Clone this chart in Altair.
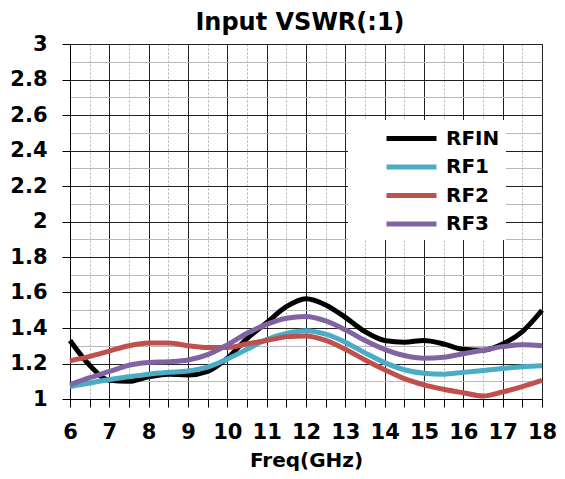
import altair as alt
import pandas as pd

freq = [6, 6.5, 7, 7.5, 8, 8.5, 9, 9.5, 10, 10.5, 11, 11.5, 12, 12.5, 13, 13.5, 14, 14.5, 15, 15.5, 16, 16.5, 17, 17.5, 18]
rfin = [1.33, 1.19, 1.105, 1.10, 1.125, 1.14, 1.135, 1.155, 1.23, 1.34, 1.43, 1.52, 1.565, 1.53, 1.46, 1.38, 1.33, 1.32, 1.33, 1.31, 1.28, 1.275, 1.31, 1.38, 1.50]
rf1 = [1.07, 1.09, 1.11, 1.125, 1.14, 1.15, 1.158, 1.18, 1.225, 1.28, 1.335, 1.37, 1.385, 1.365, 1.32, 1.26, 1.205, 1.165, 1.145, 1.14, 1.15, 1.16, 1.172, 1.182, 1.187]
rf2 = [1.215, 1.24, 1.27, 1.30, 1.315, 1.315, 1.30, 1.29, 1.29, 1.31, 1.33, 1.35, 1.355, 1.33, 1.28, 1.22, 1.165, 1.115, 1.08, 1.055, 1.035, 1.017, 1.04, 1.07, 1.105]
rf3 = [1.08, 1.12, 1.155, 1.19, 1.205, 1.21, 1.22, 1.25, 1.305, 1.37, 1.42, 1.455, 1.465, 1.44, 1.39, 1.33, 1.28, 1.245, 1.23, 1.235, 1.255, 1.275, 1.295, 1.305, 1.30]

series = ["RFIN", "RF1", "RF2", "RF3"]
colors = ["#000000", "#4BACC6", "#C0504D", "#8064A2"]

x_ticks = [6 + 0.5 * i for i in range(25)]
y_ticks = [round(1 + 0.1 * i, 1) for i in range(21)]

rows = []
for name, vals in zip(series, [rfin, rf1, rf2, rf3]):
    for f, v in zip(freq, vals):
        rows.append({"Freq": f, "VSWR": v, "Series": name})
df = pd.DataFrame(rows)

font = "DejaVu Sans"
nbsp = "\u00a0"

x_axis = alt.Axis(
    values=x_ticks,
    labelExpr="datum.value % 1 == 0 ? datum.label : ''",
    format="~g",
    title="Freq(GHz)",
    titleFont=font, titleFontSize=20, titleFontWeight="bold", titleColor="#000", titlePadding=8,
    labelFont=font, labelFontSize=21, labelFontWeight="bold", labelColor="#000",
    labelPadding=14, labelFlush=False, labelOverlap=False,
    tickSize=8, tickColor="#000",
    domainColor="#000",
    gridColor=alt.condition("datum.value % 1 == 0", alt.value("#222222"), alt.value("#b0b0b0")),
    gridDash=alt.condition("datum.value % 1 == 0", alt.value([]), alt.value([2, 2])),
    gridWidth=1,
)

y_axis = alt.Axis(
    values=y_ticks,
    labelExpr="round(datum.value*10) % 2 == 0 ? datum.label : ''",
    format="~g",
    title=None,
    labelFont=font, labelFontSize=21, labelFontWeight="bold", labelColor="#000",
    labelPadding=15, labelOverlap=False,
    tickSize=8, tickColor="#000",
    tickOpacity=alt.condition("round(datum.value*10) % 2 == 0", alt.value(1), alt.value(0)),
    domainColor="#000",
    gridColor=alt.condition("round(datum.value*10) % 2 == 0", alt.value("#222222"), alt.value("#b8b8b8")),
    gridWidth=1,
)

chart = alt.Chart(df).mark_line(strokeWidth=5, interpolate="monotone").encode(
    x=alt.X("Freq:Q", scale=alt.Scale(domain=[6, 18], nice=False, zero=False), axis=x_axis),
    y=alt.Y("VSWR:Q", scale=alt.Scale(domain=[1, 3], nice=False, zero=False), axis=y_axis),
    color=alt.Color(
        "Series:N",
        sort=series,
        scale=alt.Scale(domain=series, range=colors),
        legend=alt.Legend(
            title=nbsp, titleOrient="left", titlePadding=30, titleFontSize=20,
            orient="none", legendX=278, legendY=76,
            fillColor="white", padding=6,
            symbolType="M-1,0L4,0", symbolStrokeWidth=5, symbolSize=400, symbolOffset=0,
            labelExpr="datum.label + '" + nbsp * 3 + "'",
            labelFont=font, labelFontSize=20, labelFontWeight="bold", labelColor="#000",
            rowPadding=5.5, labelOffset=37,
        ),
    ),
).properties(
    width=472, height=355,
    title=alt.TitleParams("Input VSWR(:1)", font=font, fontSize=24, fontWeight="bold", color="#000", offset=-2, dx=-6),
    autosize=alt.AutoSizeParams(type="none"),
    padding={"left": 62, "top": 36, "right": 15, "bottom": 72},
).configure_view(stroke="#000", strokeWidth=1)

chart.save("out.html", embed_options={"renderer": "svg", "actions": False})
